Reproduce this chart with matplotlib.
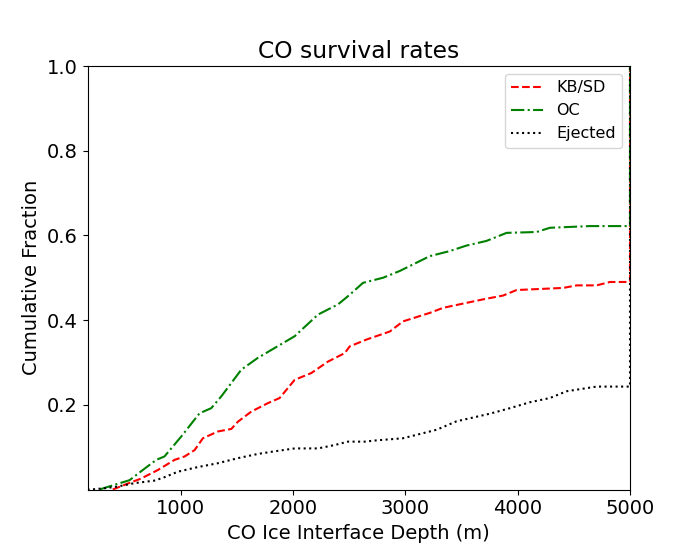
import matplotlib
matplotlib.use("Agg")
import matplotlib.pyplot as plt

# KB/SD cumulative fraction vs depth (m)
kb_depth = [397, 501, 650, 798, 947, 1036, 1125, 1199, 1332, 1452, 1510, 1630, 1778, 1882,
            2016, 2164, 2312, 2461, 2506, 2654, 2862, 2980, 3218, 3337, 3693, 3871, 3991,
            4406, 4525, 4703, 4822, 4985, 5000, 5000]
kb_frac = [0.0, 0.011, 0.026, 0.046, 0.070, 0.078, 0.093, 0.121, 0.137, 0.143, 0.160, 0.184,
           0.204, 0.216, 0.259, 0.275, 0.302, 0.322, 0.338, 0.354, 0.373, 0.397, 0.417, 0.429,
           0.449, 0.458, 0.471, 0.476, 0.482, 0.482, 0.490, 0.490, 0.490, 1.0]

# OC
oc_depth = [278, 400, 546, 664, 784, 857, 1006, 1169, 1273, 1363, 1541, 1689, 1837, 2016,
            2223, 2401, 2506, 2624, 2802, 2951, 3218, 3396, 3545, 3723, 3902, 4169, 4287,
            4644, 4985, 5000, 5000]
oc_frac = [0.0, 0.010, 0.022, 0.046, 0.070, 0.078, 0.125, 0.180, 0.192, 0.220, 0.283, 0.311,
           0.334, 0.362, 0.413, 0.437, 0.460, 0.488, 0.500, 0.516, 0.551, 0.563, 0.576,
           0.587, 0.606, 0.608, 0.618, 0.622, 0.622, 0.622, 1.0]

# Ejected
ej_depth = [172, 204, 323, 441, 590, 768, 857, 976, 1154, 1332, 1510, 1689, 1808, 2016, 2223,
            2372, 2490, 2639, 2743, 2980, 3278, 3456, 3753, 3931, 4109, 4287, 4436, 4703,
            4985, 5000, 5000]
ej_frac = [0.0, 0.0, 0.003, 0.007, 0.015, 0.021, 0.029, 0.042, 0.053, 0.062, 0.074, 0.084,
           0.089, 0.097, 0.097, 0.105, 0.113, 0.113, 0.116, 0.121, 0.141, 0.161, 0.179, 0.192,
           0.206, 0.216, 0.232, 0.243, 0.243, 0.243, 1.0]

yticks = [0.2, 0.4, 0.6, 0.8, 1.0]
xticks = [1000, 2000, 3000, 4000, 5000]

fig, ax = plt.subplots(figsize=(7, 5.5), dpi=100)
ax.plot(kb_depth, kb_frac, color='red', linestyle='--', label='KB/SD')
ax.plot(oc_depth, oc_frac, color='green', linestyle='-.', label='OC')
ax.plot(ej_depth, ej_frac, color='black', linestyle=':', label='Ejected')

ax.set_xlim(172, 5000)
ax.set_ylim(0, 1.0)
ax.set_xticks(xticks)
ax.set_yticks(yticks)
ax.tick_params(labelsize=14)
ax.set_title('CO survival rates', fontsize=16.8)
ax.set_xlabel('CO Ice Interface Depth (m)', fontsize=14)
ax.set_ylabel('Cumulative Fraction', fontsize=14)
ax.legend(loc='upper right', fontsize=11.5)

fig.savefig('out.png', dpi=100)
